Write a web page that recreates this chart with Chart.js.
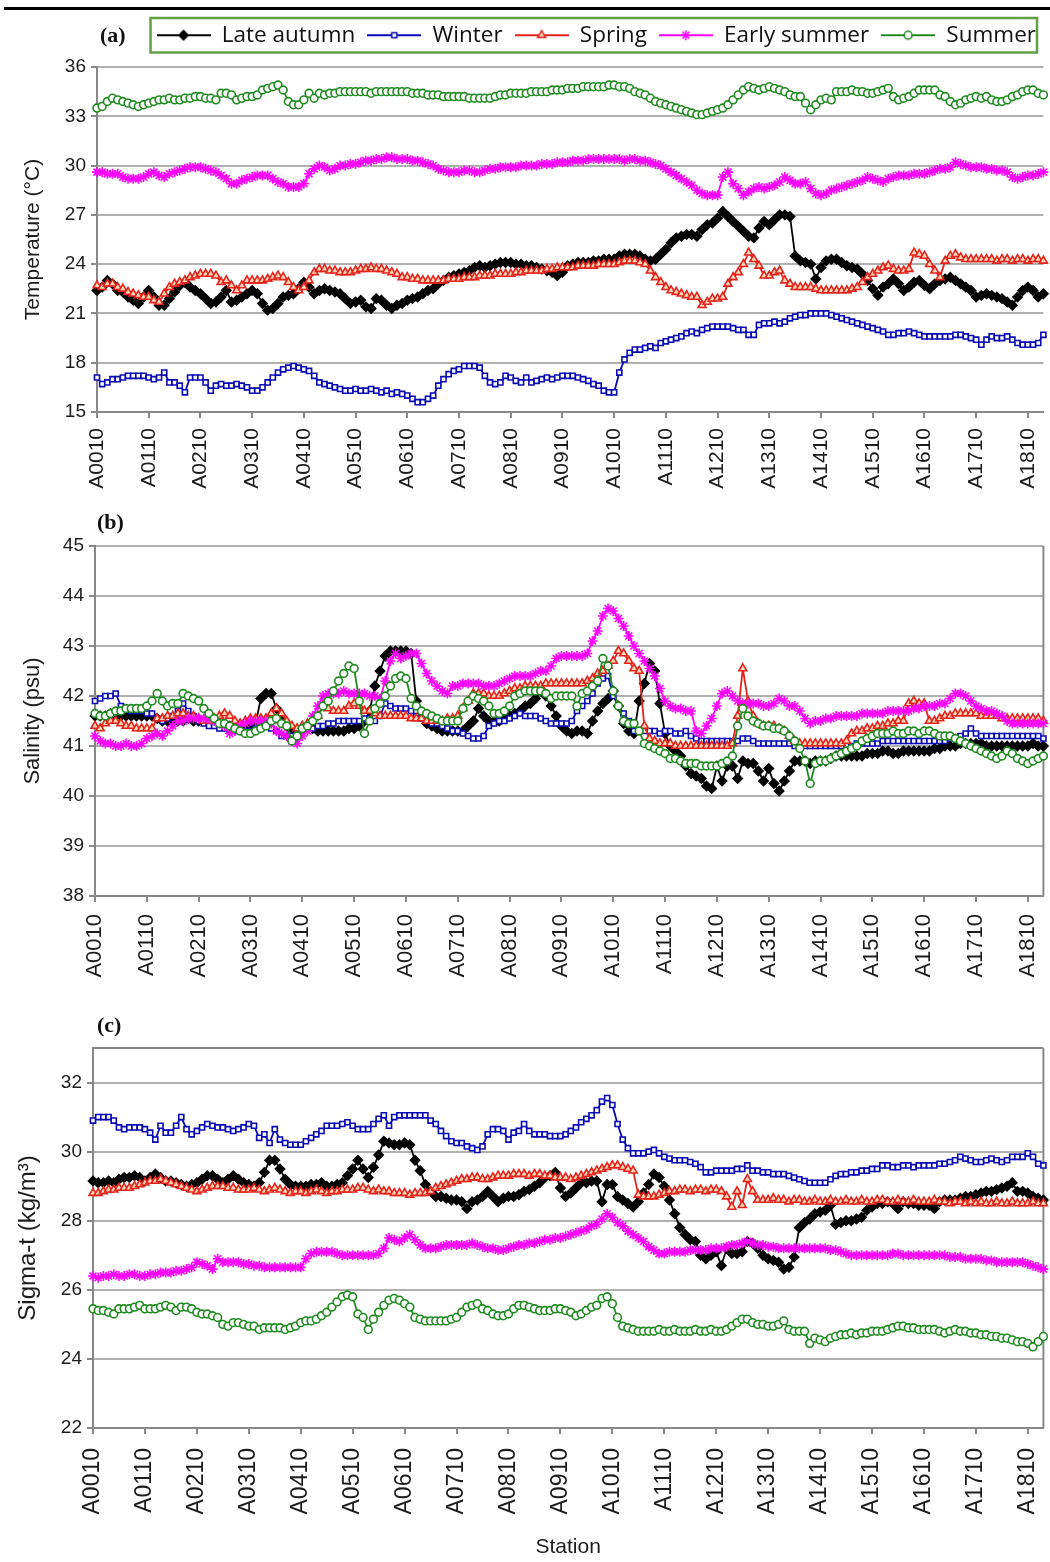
<!DOCTYPE html>
<html>
<head>
<meta charset="utf-8">
<script src="https://cdn.jsdelivr.net/npm/chart.js@4.4.0/dist/chart.umd.min.js"></script>
<style>
html,body{margin:0;padding:0;background:#fff;}
#page{position:relative;width:1050px;height:1562px;overflow:hidden;background:#fff;}
.rule{position:absolute;left:4px;top:7px;width:1046px;height:3px;background:#000;}
.panel{position:absolute;left:0;width:1050px;}
.panel canvas{display:block;}
.plabel{position:absolute;font-family:"Liberation Serif","DejaVu Serif",serif;font-weight:bold;font-size:22px;line-height:22px;color:#111;}
</style>
</head>
<body>
<div id="page">
  <div class="rule"></div>
  <div class="panel" style="top:0;height:500px"><canvas id="cA" width="1050" height="500"></canvas></div>
  <div class="panel" style="top:500px;height:500px"><canvas id="cB" width="1050" height="500"></canvas></div>
  <div class="panel" style="top:1000px;height:562px"><canvas id="cC" width="1050" height="562"></canvas></div>
  <div class="plabel" style="left:100px;top:24px">(a)</div>
  <div class="plabel" style="left:97px;top:511px">(b)</div>
  <div class="plabel" style="left:97px;top:1014px">(c)</div>
</div>
<script>
// ---------------- DATA ----------------
const tickLabels = ['A0010','A0110','A0210','A0310','A0410','A0510','A0610','A0710','A0810','A0910',
  'A1010','A1110','A1210','A1310','A1410','A1510','A1610','A1710','A1810'];
const seriesNames = ['Late autumn','Winter','Spring','Early summer','Summer'];

// (a) Temperature (°C)
const tempLateAutumn = [
22.4,22.6,23.0,22.8,22.4,22.3,22.0,21.8,21.6,22.0,
22.4,22.0,21.5,21.5,21.9,22.3,22.7,22.9,22.6,22.4,
22.2,21.9,21.6,21.7,22.0,22.4,21.7,21.8,22.0,22.2,
22.4,22.2,21.6,21.2,21.3,21.6,22.0,22.1,22.2,22.5,
22.9,22.6,22.2,22.4,22.5,22.4,22.3,22.2,21.9,21.6,
21.7,21.8,21.4,21.3,21.9,21.8,21.5,21.3,21.5,21.6,
21.8,21.9,22.0,22.2,22.4,22.5,22.8,23.0,23.2,23.3,
23.4,23.5,23.6,23.8,23.9,23.8,23.9,24.0,24.1,24.1,
24.1,24.0,24.0,23.9,23.9,23.8,23.7,23.6,23.5,23.3,
23.5,23.9,24.0,24.1,24.1,24.1,24.2,24.2,24.3,24.3,
24.3,24.5,24.6,24.6,24.6,24.5,24.3,24.2,24.3,24.6,
24.9,25.3,25.6,25.7,25.8,25.8,25.7,26.1,26.4,26.5,
26.8,27.2,26.9,26.6,26.3,26.0,25.7,25.6,26.2,26.6,
26.4,26.7,27.0,27.0,26.9,24.5,24.2,24.1,24.0,23.1,
23.8,24.2,24.3,24.3,24.1,23.9,23.8,23.7,23.4,23.0,
22.5,22.1,22.6,22.8,23.1,22.8,22.4,22.6,22.9,23.0,
22.7,22.5,22.8,23.0,23.1,23.2,23.0,22.8,22.6,22.4,
22.0,22.1,22.2,22.1,22.0,21.9,21.7,21.5,22.0,22.4,
22.6,22.4,22.0,22.2];
const tempWinter = [
17.1,16.7,16.8,17.0,17.0,17.1,17.2,17.2,17.2,17.2,
17.1,17.0,17.1,17.4,16.8,16.8,16.6,16.2,17.1,17.1,
17.1,16.8,16.3,16.6,16.7,16.6,16.6,16.7,16.6,16.5,
16.3,16.3,16.5,16.8,17.1,17.4,17.6,17.7,17.8,17.7,
17.6,17.5,17.2,16.8,16.7,16.6,16.5,16.4,16.3,16.3,
16.4,16.3,16.3,16.4,16.3,16.2,16.3,16.1,16.2,16.1,
16.0,15.8,15.6,15.6,15.8,16.0,16.6,17.0,17.3,17.5,
17.6,17.8,17.8,17.8,17.7,17.2,16.8,16.7,16.8,17.2,
17.1,16.9,16.8,17.1,16.8,16.9,17.0,17.1,17.0,17.1,
17.2,17.2,17.2,17.1,17.0,16.9,16.7,16.6,16.3,16.2,
16.2,17.4,18.2,18.6,18.8,18.8,18.9,19.0,18.9,19.2,
19.3,19.4,19.5,19.6,19.8,19.9,19.8,20.0,20.1,20.2,
20.2,20.2,20.2,20.1,20.0,20.0,19.7,19.7,20.3,20.4,
20.4,20.5,20.4,20.5,20.7,20.8,20.9,20.9,21.0,21.0,
21.0,21.0,20.9,20.8,20.7,20.6,20.5,20.4,20.3,20.2,
20.1,20.0,19.9,19.7,19.7,19.8,19.8,19.9,19.8,19.7,
19.6,19.6,19.6,19.6,19.6,19.6,19.7,19.7,19.6,19.5,
19.4,19.1,19.4,19.6,19.5,19.5,19.6,19.4,19.2,19.1,
19.1,19.1,19.2,19.7];
const tempSpring = [
22.7,22.6,22.8,22.8,22.6,22.5,22.3,22.2,22.1,22.0,
22.0,21.8,21.7,22.2,22.6,22.8,22.9,23.0,23.2,23.3,
23.4,23.4,23.4,23.3,22.9,23.0,22.7,22.4,22.7,23.0,
23.0,23.0,23.0,23.1,23.2,23.3,23.2,22.9,22.6,22.4,
22.6,23.0,23.5,23.7,23.7,23.6,23.6,23.5,23.5,23.5,
23.6,23.7,23.7,23.8,23.7,23.7,23.6,23.5,23.4,23.2,
23.2,23.1,23.1,23.0,23.0,23.0,23.0,23.0,23.1,23.1,
23.1,23.2,23.2,23.2,23.3,23.3,23.3,23.4,23.4,23.4,
23.4,23.5,23.5,23.6,23.6,23.6,23.6,23.7,23.7,23.8,
23.8,23.8,23.8,23.9,23.9,23.9,23.9,24.0,24.0,24.0,
24.0,24.1,24.2,24.2,24.2,24.1,24.0,23.6,23.2,22.9,
22.6,22.4,22.3,22.2,22.1,22.0,22.0,21.5,21.7,21.9,
21.9,22.0,22.8,23.2,23.5,24.0,24.7,24.3,23.9,23.3,
23.3,23.5,23.6,23.0,22.8,22.6,22.6,22.6,22.6,22.5,
22.4,22.4,22.4,22.4,22.4,22.4,22.5,22.6,22.9,23.2,
23.4,23.6,23.8,23.9,23.7,23.6,23.6,23.7,24.7,24.6,
24.5,24.0,23.6,23.2,24.2,24.5,24.6,24.4,24.3,24.3,
24.3,24.3,24.3,24.3,24.2,24.3,24.3,24.2,24.3,24.3,
24.2,24.3,24.3,24.2];
const tempEarlySummer = [
29.6,29.6,29.5,29.5,29.5,29.3,29.2,29.2,29.2,29.3,
29.5,29.6,29.4,29.3,29.5,29.6,29.7,29.8,29.9,29.9,
29.9,29.8,29.7,29.6,29.4,29.2,28.9,28.9,29.1,29.2,
29.3,29.4,29.4,29.4,29.2,29.0,28.9,28.7,28.7,28.7,
28.9,29.5,29.8,30.0,29.9,29.7,29.8,30.0,30.0,30.1,
30.1,30.2,30.3,30.3,30.4,30.4,30.5,30.5,30.4,30.4,
30.4,30.3,30.3,30.2,30.1,30.0,29.8,29.7,29.6,29.6,
29.6,29.7,29.7,29.6,29.6,29.7,29.8,29.8,29.9,29.9,
29.9,29.9,30.0,30.0,30.0,30.0,30.1,30.1,30.1,30.2,
30.2,30.2,30.3,30.3,30.3,30.4,30.4,30.4,30.4,30.4,
30.4,30.4,30.3,30.4,30.4,30.3,30.3,30.2,30.1,30.0,
29.8,29.6,29.4,29.2,29.0,28.8,28.5,28.3,28.2,28.2,
28.2,29.3,29.6,28.9,28.6,28.2,28.4,28.6,28.7,28.6,
28.7,28.8,29.0,29.3,29.1,28.9,28.9,29.0,28.6,28.3,
28.2,28.3,28.5,28.6,28.7,28.8,28.9,29.0,29.1,29.3,
29.2,29.1,29.0,29.2,29.3,29.4,29.4,29.4,29.5,29.5,
29.5,29.6,29.7,29.8,29.8,29.9,30.2,30.1,30.0,29.9,
29.9,29.9,29.8,29.8,29.7,29.7,29.6,29.3,29.2,29.3,
29.4,29.4,29.5,29.6];
const tempSummer = [
33.5,33.6,33.9,34.1,34.0,33.9,33.8,33.7,33.6,33.7,
33.8,33.9,34.0,34.0,34.1,34.0,34.0,34.1,34.1,34.2,
34.2,34.1,34.1,34.0,34.4,34.4,34.3,34.0,34.1,34.2,
34.2,34.3,34.6,34.7,34.8,34.9,34.6,33.9,33.7,33.7,
34.0,34.4,34.1,34.4,34.3,34.4,34.4,34.5,34.5,34.5,
34.5,34.5,34.5,34.4,34.5,34.5,34.5,34.5,34.5,34.5,
34.5,34.4,34.4,34.4,34.3,34.3,34.3,34.2,34.2,34.2,
34.2,34.2,34.1,34.1,34.1,34.1,34.1,34.2,34.3,34.3,
34.4,34.4,34.4,34.4,34.5,34.5,34.5,34.5,34.6,34.6,
34.6,34.7,34.7,34.7,34.8,34.8,34.8,34.8,34.8,34.9,
34.9,34.8,34.8,34.7,34.5,34.4,34.3,34.1,33.9,33.8,
33.7,33.6,33.5,33.4,33.3,33.2,33.1,33.1,33.2,33.3,
33.4,33.5,33.7,34.0,34.3,34.6,34.8,34.7,34.6,34.7,
34.8,34.7,34.6,34.5,34.3,34.2,34.2,33.8,33.4,33.7,
34.0,34.1,34.0,34.5,34.5,34.5,34.6,34.5,34.5,34.4,
34.4,34.5,34.6,34.7,34.2,34.0,34.1,34.2,34.4,34.6,
34.6,34.6,34.6,34.3,34.2,33.9,33.7,33.8,34.0,34.1,
34.2,34.1,34.2,34.0,33.9,33.9,34.0,34.2,34.3,34.5,
34.6,34.6,34.4,34.3];

// (b) Salinity (psu)
const salLateAutumn = [
41.6,41.6,41.6,41.65,41.6,41.6,41.6,41.6,41.6,41.6,
41.6,41.6,41.55,41.5,41.5,41.5,41.5,41.5,41.55,41.5,
41.5,41.5,41.45,41.45,41.4,41.4,41.4,41.4,41.35,41.4,
41.4,41.45,41.95,42.05,42.05,41.75,41.5,41.4,41.3,41.3,
41.35,41.35,41.35,41.3,41.3,41.3,41.3,41.3,41.3,41.35,
41.35,41.4,41.5,41.7,42.2,42.5,42.8,42.9,42.9,42.9,
42.9,42.85,41.9,41.6,41.45,41.4,41.35,41.3,41.3,41.3,
41.3,41.3,41.4,41.5,41.75,41.6,41.5,41.5,41.5,41.55,
41.6,41.65,41.7,41.8,41.85,41.95,42.1,42.0,41.8,41.6,
41.4,41.3,41.25,41.3,41.3,41.25,41.5,41.7,41.85,41.95,
42.1,41.8,41.45,41.3,41.25,41.9,42.25,42.65,42.5,41.85,
41.25,41.0,40.9,40.8,40.6,40.45,40.4,40.35,40.2,40.15,
40.6,40.3,40.6,40.6,40.35,40.7,40.65,40.65,40.5,40.3,
40.55,40.25,40.1,40.3,40.5,40.7,40.7,40.7,40.65,40.7,
40.7,40.7,40.75,40.8,40.8,40.8,40.8,40.8,40.8,40.85,
40.85,40.85,40.9,40.9,40.85,40.85,40.9,40.9,40.9,40.9,
40.9,40.9,40.95,40.95,41.0,41.0,41.0,41.05,41.05,41.05,
41.05,41.05,41.0,41.0,41.0,41.0,41.0,41.0,41.0,41.0,
41.0,41.05,41.0,41.0];
const salWinter = [
41.9,41.95,42.0,42.0,42.05,41.8,41.75,41.7,41.7,41.7,
41.65,41.65,41.55,41.5,41.55,41.6,41.7,41.85,41.7,41.6,
41.5,41.45,41.4,41.4,41.35,41.35,41.3,41.3,41.3,41.3,
41.3,41.35,41.4,41.4,41.35,41.3,41.2,41.2,41.2,41.25,
41.3,41.35,41.35,41.4,41.4,41.45,41.45,41.5,41.5,41.5,
41.5,41.5,41.55,41.55,41.5,41.6,41.85,41.8,41.75,41.75,
41.75,41.7,41.6,41.55,41.5,41.45,41.45,41.4,41.35,41.3,
41.3,41.25,41.2,41.15,41.15,41.2,41.4,41.45,41.5,41.5,
41.55,41.6,41.65,41.6,41.6,41.6,41.55,41.5,41.45,41.45,
41.45,41.45,41.5,41.7,41.8,41.9,42.05,42.25,42.35,42.4,
42.0,41.8,41.65,41.5,41.3,41.3,41.3,41.3,41.3,41.25,
41.3,41.3,41.25,41.25,41.3,41.2,41.15,41.1,41.1,41.1,
41.1,41.1,41.1,41.1,41.1,41.15,41.15,41.1,41.05,41.05,
41.05,41.05,41.05,41.05,41.05,41.0,41.0,41.0,41.0,41.0,
41.0,41.0,41.0,41.0,41.0,41.0,41.0,41.05,41.05,41.05,
41.05,41.05,41.1,41.1,41.1,41.1,41.1,41.1,41.1,41.1,
41.1,41.1,41.1,41.1,41.1,41.15,41.15,41.2,41.25,41.35,
41.25,41.2,41.2,41.2,41.2,41.2,41.2,41.2,41.2,41.2,
41.2,41.2,41.2,41.15];
const salSpring = [
41.4,41.35,41.45,41.5,41.5,41.45,41.4,41.4,41.35,41.35,
41.35,41.35,41.55,41.55,41.6,41.6,41.65,41.65,41.6,41.6,
41.55,41.5,41.5,41.55,41.6,41.65,41.6,41.5,41.45,41.5,
41.55,41.55,41.55,41.55,41.65,41.75,41.65,41.5,41.4,41.35,
41.4,41.45,41.5,41.6,41.8,41.75,41.7,41.7,41.7,41.8,
41.85,41.8,41.7,41.7,41.65,41.6,41.6,41.6,41.6,41.6,
41.6,41.55,41.55,41.55,41.5,41.5,41.5,41.5,41.55,41.55,
41.6,41.75,41.9,42.05,42.05,42.05,42.0,42.0,42.0,42.05,
42.1,42.15,42.15,42.2,42.2,42.2,42.2,42.25,42.25,42.25,
42.25,42.25,42.25,42.25,42.25,42.3,42.35,42.45,42.5,42.6,
42.7,42.9,42.85,42.7,42.55,42.5,41.4,41.15,41.1,41.05,
41.05,41.05,41.0,41.0,41.0,41.0,41.0,41.0,41.0,41.0,
41.0,41.0,41.0,41.05,41.6,42.55,41.9,41.6,41.45,41.4,
41.4,41.4,41.35,41.3,41.2,41.1,41.05,41.05,41.05,41.05,
41.05,41.05,41.05,41.05,41.05,41.1,41.25,41.3,41.3,41.35,
41.35,41.4,41.4,41.45,41.45,41.5,41.5,41.85,41.9,41.85,
41.85,41.5,41.5,41.55,41.6,41.6,41.65,41.65,41.65,41.65,
41.65,41.6,41.6,41.6,41.6,41.55,41.55,41.55,41.55,41.55,
41.55,41.55,41.55,41.5];
const salEarlySummer = [
41.2,41.1,41.05,41.05,41.0,41.0,41.05,41.0,41.0,41.05,
41.15,41.2,41.25,41.2,41.3,41.4,41.5,41.5,41.55,41.55,
41.55,41.55,41.55,41.5,41.45,41.4,41.25,41.3,41.4,41.45,
41.5,41.5,41.5,41.5,41.45,41.3,41.25,41.2,41.1,41.05,
41.2,41.3,41.6,41.8,42.0,42.05,42.05,42.05,42.1,42.05,
42.05,42.05,42.05,42.0,42.0,41.95,42.3,42.7,42.85,42.75,
42.8,42.85,42.85,42.65,42.45,42.3,42.2,42.1,42.05,42.2,
42.2,42.25,42.25,42.25,42.25,42.2,42.2,42.2,42.25,42.3,
42.35,42.4,42.4,42.4,42.4,42.45,42.5,42.5,42.6,42.75,
42.8,42.8,42.8,42.8,42.8,42.85,43.1,43.3,43.6,43.75,
43.7,43.55,43.4,43.2,43.0,42.85,42.7,42.55,42.4,42.15,
41.9,41.8,41.75,41.75,41.7,41.7,41.3,41.25,41.4,41.55,
41.8,42.05,42.1,42.0,41.9,41.85,41.85,41.85,41.85,41.8,
41.8,41.85,41.95,41.9,41.8,41.8,41.7,41.55,41.45,41.5,
41.5,41.55,41.55,41.6,41.6,41.6,41.6,41.6,41.65,41.65,
41.65,41.65,41.65,41.7,41.7,41.7,41.7,41.7,41.75,41.75,
41.8,41.8,41.8,41.85,41.85,41.95,42.05,42.05,42.0,41.9,
41.8,41.75,41.7,41.7,41.65,41.6,41.5,41.45,41.45,41.45,
41.45,41.45,41.45,41.45];
const salSummer = [
41.65,41.6,41.6,41.65,41.7,41.7,41.75,41.75,41.75,41.75,
41.8,41.9,42.05,41.9,41.8,41.85,41.85,42.05,42.0,41.95,
41.9,41.75,41.65,41.55,41.45,41.45,41.4,41.35,41.3,41.25,
41.25,41.3,41.35,41.4,41.5,41.55,41.45,41.4,41.1,41.2,
41.35,41.4,41.5,41.6,41.8,41.9,42.1,42.3,42.45,42.6,
42.55,41.9,41.25,41.5,41.75,41.85,42.0,42.2,42.35,42.4,
42.35,41.95,41.8,41.7,41.65,41.6,41.55,41.5,41.5,41.5,
41.5,41.75,41.9,42.0,41.95,41.9,41.8,41.65,41.65,41.7,
41.8,42.0,42.05,42.1,42.1,42.1,42.1,42.05,41.95,42.0,
42.0,42.0,42.0,41.8,42.05,42.1,42.2,42.3,42.75,42.6,
42.1,41.8,41.5,41.45,41.45,41.3,41.05,41.0,40.95,40.9,
40.85,40.75,40.75,40.7,40.65,40.65,40.65,40.6,40.6,40.6,
40.6,40.65,40.7,40.8,41.4,41.75,41.6,41.5,41.45,41.4,
41.4,41.35,41.35,41.3,41.2,41.1,40.95,40.7,40.25,40.65,
40.7,40.7,40.75,40.8,40.85,40.9,40.95,41.0,41.1,41.15,
41.2,41.25,41.25,41.25,41.3,41.25,41.25,41.3,41.3,41.25,
41.3,41.3,41.25,41.2,41.2,41.2,41.15,41.1,41.05,41.0,
40.95,40.9,40.85,40.8,40.75,40.8,40.9,40.85,40.75,40.7,
40.65,40.7,40.75,40.8];

// (c) Sigma-t (kg/m3)
const sigLateAutumn = [
29.15,29.1,29.1,29.15,29.1,29.2,29.25,29.25,29.3,29.25,
29.15,29.25,29.35,29.25,29.15,29.15,29.1,29.05,29.0,29.05,
29.1,29.2,29.3,29.3,29.2,29.1,29.2,29.3,29.2,29.1,
29.05,29.0,29.1,29.4,29.75,29.75,29.5,29.2,29.05,29.0,
29.0,29.0,29.05,29.05,29.1,29.0,29.0,29.05,29.1,29.3,
29.5,29.75,29.5,29.25,29.55,29.9,30.3,30.25,30.2,30.2,
30.25,30.2,29.75,29.45,29.05,28.85,28.7,28.7,28.65,28.6,
28.6,28.55,28.35,28.55,28.6,28.7,28.85,28.7,28.55,28.65,
28.7,28.7,28.75,28.85,28.9,29.0,29.1,29.25,29.3,29.4,
28.95,28.7,28.8,28.95,29.1,29.1,29.15,29.15,28.55,29.05,
29.05,28.7,28.6,28.5,28.4,28.55,28.8,29.05,29.35,29.25,
29.0,28.6,28.2,27.8,27.6,27.45,27.4,27.0,26.9,27.0,
27.1,26.7,27.2,27.05,27.05,27.1,27.4,27.35,27.2,27.0,
26.9,26.85,26.8,26.6,26.65,26.95,27.8,27.95,28.05,28.2,
28.25,28.3,28.45,27.9,27.95,28.0,28.0,28.05,28.1,28.3,
28.4,28.5,28.5,28.55,28.5,28.35,28.55,28.5,28.5,28.45,
28.45,28.45,28.35,28.55,28.6,28.6,28.6,28.65,28.7,28.7,
28.75,28.8,28.85,28.85,28.9,28.95,29.0,29.1,28.85,28.85,
28.8,28.7,28.65,28.6];
const sigWinter = [
30.9,31.0,31.0,31.0,30.9,30.7,30.65,30.7,30.7,30.7,
30.65,30.55,30.35,30.75,30.55,30.55,30.75,31.0,30.65,30.5,
30.6,30.7,30.8,30.75,30.7,30.7,30.65,30.6,30.65,30.7,
30.8,30.75,30.4,30.5,30.25,30.65,30.35,30.25,30.2,30.2,
30.2,30.3,30.4,30.5,30.6,30.75,30.75,30.75,30.8,30.85,
30.75,30.65,30.65,30.65,30.8,30.95,31.05,30.75,31.0,31.05,
31.05,31.05,31.05,31.05,31.05,30.9,30.8,30.6,30.45,30.3,
30.25,30.25,30.15,30.1,30.05,30.15,30.5,30.65,30.65,30.6,
30.35,30.55,30.6,30.8,30.6,30.5,30.5,30.5,30.45,30.45,
30.45,30.5,30.6,30.7,30.85,30.95,31.05,31.2,31.45,31.55,
31.35,30.8,30.35,30.1,29.95,29.95,29.95,30.0,30.05,29.95,
29.85,29.8,29.75,29.75,29.75,29.7,29.65,29.55,29.4,29.4,
29.45,29.45,29.45,29.45,29.5,29.5,29.6,29.45,29.45,29.4,
29.4,29.35,29.35,29.35,29.3,29.25,29.2,29.15,29.1,29.1,
29.1,29.1,29.2,29.3,29.35,29.35,29.4,29.4,29.45,29.45,
29.5,29.5,29.6,29.6,29.55,29.55,29.6,29.6,29.55,29.6,
29.6,29.6,29.6,29.65,29.65,29.7,29.75,29.85,29.8,29.75,
29.7,29.7,29.75,29.8,29.75,29.7,29.75,29.85,29.85,29.85,
29.95,29.85,29.65,29.6];
const sigSpring = [
28.8,28.8,28.85,28.9,28.9,28.95,28.95,28.95,29.0,29.05,
29.1,29.15,29.15,29.2,29.15,29.1,29.05,29.0,28.95,28.9,
28.85,28.9,28.95,29.0,29.0,29.0,28.95,28.95,28.9,28.9,
28.9,28.95,28.9,28.85,28.9,28.95,28.9,28.85,28.8,28.85,
28.85,28.8,28.85,28.9,28.85,28.8,28.85,28.85,28.9,28.9,
28.9,28.95,28.95,28.9,28.85,28.9,28.85,28.85,28.8,28.8,
28.8,28.75,28.8,28.8,28.8,28.85,28.95,29.0,29.05,29.1,
29.15,29.2,29.2,29.25,29.25,29.2,29.2,29.25,29.3,29.3,
29.3,29.35,29.35,29.35,29.3,29.35,29.35,29.3,29.3,29.25,
29.25,29.25,29.2,29.25,29.3,29.35,29.4,29.45,29.5,29.55,
29.6,29.6,29.55,29.5,29.45,28.75,28.7,28.7,28.7,28.75,
28.8,28.85,28.85,28.9,28.9,28.85,28.9,28.9,28.85,28.9,
28.9,28.85,28.7,28.4,28.85,28.45,29.2,28.85,28.6,28.6,
28.6,28.65,28.6,28.6,28.55,28.6,28.6,28.55,28.55,28.6,
28.55,28.55,28.6,28.55,28.55,28.6,28.55,28.55,28.6,28.55,
28.55,28.6,28.6,28.55,28.55,28.6,28.55,28.55,28.6,28.55,
28.55,28.55,28.6,28.55,28.55,28.5,28.55,28.55,28.5,28.55,
28.5,28.55,28.5,28.5,28.55,28.5,28.5,28.55,28.5,28.5,
28.5,28.55,28.5,28.5];
const sigEarlySummer = [
26.4,26.35,26.4,26.4,26.45,26.4,26.4,26.45,26.45,26.4,
26.4,26.45,26.45,26.5,26.5,26.5,26.55,26.55,26.6,26.65,
26.8,26.75,26.7,26.6,26.9,26.8,26.8,26.8,26.8,26.75,
26.75,26.7,26.7,26.65,26.65,26.65,26.65,26.65,26.65,26.65,
26.65,26.9,27.05,27.1,27.1,27.1,27.1,27.05,27.0,27.0,
27.0,27.0,27.0,27.0,27.0,27.05,27.2,27.5,27.45,27.4,
27.5,27.6,27.45,27.3,27.2,27.2,27.2,27.25,27.3,27.3,
27.3,27.3,27.3,27.35,27.3,27.25,27.2,27.2,27.15,27.15,
27.2,27.25,27.3,27.3,27.35,27.35,27.4,27.45,27.45,27.5,
27.5,27.55,27.6,27.65,27.7,27.75,27.85,27.9,28.05,28.2,
28.1,27.95,27.85,27.7,27.6,27.5,27.4,27.25,27.15,27.05,
27.05,27.1,27.1,27.1,27.1,27.15,27.15,27.15,27.15,27.2,
27.2,27.2,27.25,27.3,27.3,27.35,27.4,27.35,27.3,27.3,
27.25,27.25,27.2,27.2,27.2,27.2,27.2,27.2,27.2,27.2,
27.2,27.2,27.15,27.15,27.1,27.05,27.0,27.0,27.0,27.0,
27.0,27.0,27.0,27.0,27.05,27.05,27.0,27.0,27.0,27.0,
27.0,27.0,27.0,27.0,27.0,26.95,26.95,26.95,26.9,26.9,
26.9,26.9,26.85,26.85,26.8,26.8,26.8,26.8,26.8,26.8,
26.75,26.7,26.65,26.6];
const sigSummer = [
25.45,25.4,25.4,25.35,25.3,25.45,25.45,25.45,25.5,25.55,
25.45,25.45,25.45,25.5,25.55,25.5,25.4,25.5,25.5,25.45,
25.35,25.3,25.3,25.25,25.2,25.0,24.95,25.05,25.05,25.0,
24.95,24.95,24.85,24.9,24.9,24.9,24.9,24.85,24.9,24.95,
25.05,25.1,25.1,25.15,25.25,25.35,25.5,25.65,25.8,25.85,
25.8,25.3,25.2,24.85,25.15,25.35,25.55,25.7,25.75,25.7,
25.6,25.5,25.2,25.15,25.1,25.1,25.1,25.1,25.1,25.15,
25.2,25.35,25.5,25.55,25.6,25.45,25.4,25.3,25.25,25.25,
25.3,25.45,25.55,25.55,25.5,25.45,25.4,25.4,25.4,25.45,
25.45,25.4,25.35,25.25,25.3,25.4,25.5,25.55,25.75,25.8,
25.6,25.2,24.95,24.9,24.85,24.8,24.8,24.8,24.8,24.85,
24.8,24.8,24.85,24.8,24.8,24.8,24.85,24.8,24.8,24.85,
24.8,24.8,24.85,24.95,25.05,25.15,25.15,25.05,25.0,25.0,
24.95,24.95,25.0,25.1,24.85,24.8,24.8,24.8,24.45,24.6,
24.55,24.5,24.6,24.65,24.7,24.7,24.75,24.7,24.75,24.75,
24.8,24.8,24.8,24.85,24.9,24.95,24.95,24.9,24.9,24.85,
24.85,24.85,24.85,24.8,24.75,24.8,24.85,24.8,24.8,24.75,
24.75,24.7,24.7,24.65,24.65,24.6,24.6,24.55,24.5,24.5,
24.45,24.35,24.5,24.65];

// station categories: tick label every 10 stations
const stations = [];
for (let i = 0; i < tempWinter.length; i++) {
  stations.push('A' + String(Math.floor(i / 10)).padStart(2, '0') + String(10 + (i % 10)));
}

// ---------------- STYLE ----------------
const FONT = "'Liberation Sans', Arial, Helvetica, sans-serif";
const seriesColors = ['#000000', '#0a0ab4', '#e3231c', '#ff00ff', '#1f8a1f'];
const seriesFills  = ['#000000', '#ffffff', '#ffd9b8', '#ff00ff', '#ffffff'];
const seriesStyles = ['rectRot', 'rect', 'triangle', 'star', 'circle'];
const seriesRadius = [4.6, 3.6, 4.6, 5, 3.9];
const GRID = '#b0b0b0', AXIS = '#888888', TXT = '#1c1c1c';

function makeSwatch(k) {
  const c = document.createElement('canvas');
  c.width = 54; c.height = 14;
  const g = c.getContext('2d');
  g.strokeStyle = seriesColors[k]; g.lineWidth = 2;
  g.beginPath(); g.moveTo(0, 7); g.lineTo(54, 7); g.stroke();
  g.fillStyle = seriesFills[k]; g.strokeStyle = seriesColors[k]; g.lineWidth = 1.5;
  Chart.helpers.drawPoint(g, {pointStyle: seriesStyles[k], radius: seriesRadius[k], borderWidth: 1.5, rotation: 0}, 27, 7);
  return c;
}

function makeDatasets(list) {
  return list.map((vals, k) => ({
    label: seriesNames[k],
    data: vals,
    borderColor: seriesColors[k],
    backgroundColor: seriesFills[k],
    borderWidth: 1.8,
    pointStyle: seriesStyles[k],
    pointRadius: seriesRadius[k],
    pointBorderWidth: 1.6,
    pointBorderColor: seriesColors[k],
    pointBackgroundColor: seriesFills[k],
    pointHoverRadius: seriesRadius[k],
    tension: 0,
    clip: false,
    order: 4 - k
  }));
}

const framePlugin = {
  id: 'frame',
  beforeDatasetsDraw(chart, args, opts) {
    const a = chart.chartArea, ctx = chart.ctx;
    ctx.save();
    ctx.strokeStyle = AXIS; ctx.lineWidth = 2;
    ctx.beginPath();
    if (opts.top) { ctx.moveTo(a.left, a.top); ctx.lineTo(a.right, a.top); }
    if (opts.right) { ctx.moveTo(a.right, a.top); ctx.lineTo(a.right, a.bottom); }
    ctx.stroke();
    ctx.restore();
  }
};

const legendBoxPlugin = {
  id: 'legendBox',
  afterDraw(chart, args, opts) {
    if (!opts.show || !chart.legend || !chart.legend.legendHitBoxes) return;
    const hb = chart.legend.legendHitBoxes;
    const first = hb[0], last = hb[hb.length - 1];
    const x0 = first.left - 6, x1 = last.left + last.width + 1;
    const y0 = first.top - 6, y1 = first.top + first.height + 6;
    const ctx = chart.ctx;
    ctx.save();
    ctx.strokeStyle = '#62a044'; ctx.lineWidth = 2.5;
    ctx.strokeRect(x0, y0, x1 - x0, y1 - y0);
    ctx.restore();
  }
};

function makeChart(id, cfg) {
  const xScale = {
    type: 'category',
    offset: false,
    grid: {
      drawOnChartArea: false, drawTicks: true, tickLength: 6, lineWidth: 2,
      tickColor: (c) => tickLabels.includes(stations[c.index]) ? AXIS : 'rgba(0,0,0,0)',
      offset: false
    },
    border: { display: true, color: AXIS, width: 2 },
    ticks: {
      autoSkip: false, maxRotation: 90, minRotation: 90, padding: cfg.xPad,
      font: { family: FONT, size: cfg.xFont }, color: TXT,
      callback: function (value) {
        const lab = this.getLabelForValue(value);
        return tickLabels.includes(lab) ? lab : '';
      }
    },
    title: cfg.xTitle ? { display: true, text: cfg.xTitle, font: { family: FONT, size: 21, lineHeight: 1.2 }, color: TXT, padding: { top: 0, bottom: 2 } } : { display: false },
    afterFit: (s) => { s.height = cfg.xHeight; s.paddingLeft = 0; s.paddingRight = 0; }
  };
  const yScale = {
    type: 'linear',
    min: cfg.yMin, max: cfg.yMax,
    ticks: { stepSize: cfg.yStep, includeBounds: false, font: { family: FONT, size: 19 }, color: TXT, padding: 5 },
    grid: { color: GRID, lineWidth: 2, tickLength: 6, tickColor: AXIS, drawTicks: true },
    border: { display: true, color: AXIS, width: 2 },
    title: { display: true, text: cfg.yTitle, font: { family: FONT, size: cfg.yTitleSize, lineHeight: 1.2 }, color: TXT, padding: { top: cfg.yTitlePad, bottom: 0 } },
    afterFit: (s) => { s.width = cfg.yWidth; s.paddingTop = 0; s.paddingBottom = 0; }
  };
  return new Chart(document.getElementById(id), {
    type: 'line',
    data: { labels: stations, datasets: makeDatasets(cfg.series) },
    options: {
      responsive: false,
      animation: false,
      devicePixelRatio: 1,
      events: [],
      layout: { padding: cfg.padding },
      scales: { x: xScale, y: yScale },
      plugins: {
        tooltip: { enabled: false },
        legend: cfg.legend ? {
          display: true, position: 'top', align: 'end',
          labels: {
            usePointStyle: true, pointStyleWidth: 54, padding: 12,
            font: { family: "'Open Sans', 'Liberation Sans', sans-serif", size: 22.5 }, color: '#111',
            sort: (a, b) => a.datasetIndex - b.datasetIndex,
            generateLabels: (chart) => Chart.defaults.plugins.legend.labels.generateLabels(chart)
              .map((l) => Object.assign(l, { pointStyle: makeSwatch(l.datasetIndex) }))
          }
        } : { display: false },
        subtitle: cfg.legend ? { display: true, text: '', position: 'top', weight: 500, font: { size: 1, lineHeight: 1 }, padding: { top: 0, bottom: 9.5 } } : { display: false },
        frame: cfg.frame,
        legendBox: { show: !!cfg.legend }
      }
    },
    plugins: [framePlugin, legendBoxPlugin]
  });
}

makeChart('cA', {
  series: [tempLateAutumn, tempWinter, tempSpring, tempEarlySummer, tempSummer],
  yMin: 15, yMax: 36, yStep: 3, yTitle: 'Temperature (°C)', yTitleSize: 21, yTitlePad: 21, yWidth: 97,
  xFont: 21, xPad: 10, xHeight: 88, legend: true,
  padding: { top: 12, left: 0, right: 2, bottom: 0 },
  frame: { top: false, right: false }
});
makeChart('cB', {
  series: [salLateAutumn, salWinter, salSpring, salEarlySummer, salSummer],
  yMin: 38, yMax: 45, yStep: 1, yTitle: 'Salinity (psu)', yTitleSize: 22, yTitlePad: 20, yWidth: 95,
  xFont: 22, xPad: 12, xHeight: 104, legend: false,
  padding: { top: 46, left: 0, right: 2, bottom: 0 },
  frame: { top: false, right: true }
});
makeChart('cC', {
  series: [sigLateAutumn, sigWinter, sigSpring, sigEarlySummer, sigSummer],
  yMin: 22, yMax: 33, yStep: 2, yTitle: 'Sigma-t (kg/m³)', yTitleSize: 24, yTitlePad: 14, yWidth: 93,
  xFont: 23, xPad: 14, xHeight: 134, xTitle: 'Station', legend: false,
  padding: { top: 48, left: 0, right: 2, bottom: 0 },
  frame: { top: true, right: true }
});
</script>
</body>
</html>
